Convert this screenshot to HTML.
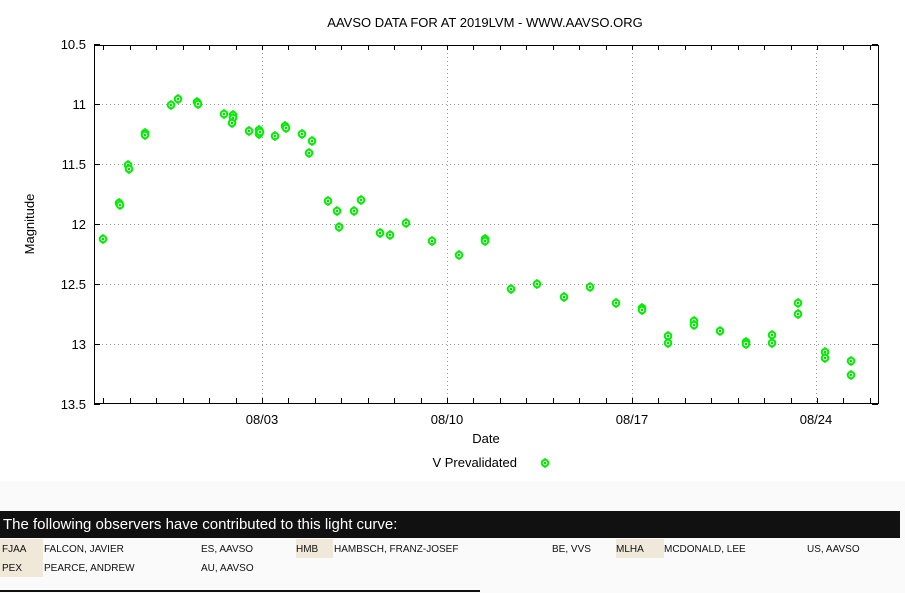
<!DOCTYPE html>
<html><head><style>
body{margin:0;width:905px;height:593px;background:#fafafa;font-family:"Liberation Sans",sans-serif;position:relative;overflow:hidden}
.bar{position:absolute;left:0;top:511px;width:900px;height:27px;background:#111;color:#fff;font-size:15px;line-height:27px;padding-left:3px;box-sizing:border-box}
.t{position:absolute;font-size:10px;color:#111}
.h{position:absolute;background:#f0e8d8}
</style></head><body>
<svg width="905" height="481" style="position:absolute;left:0;top:0;background:#fff">
<g font-family="Liberation Sans" font-size="13" fill="#000">
<text x="485" y="27" text-anchor="middle">AAVSO DATA FOR AT 2019LVM - WWW.AAVSO.ORG</text>
<text x="86" y="49" text-anchor="end">10.5</text>
<text x="86" y="109" text-anchor="end">11</text>
<text x="86" y="169" text-anchor="end">11.5</text>
<text x="86" y="229" text-anchor="end">12</text>
<text x="86" y="289" text-anchor="end">12.5</text>
<text x="86" y="349" text-anchor="end">13</text>
<text x="86" y="409" text-anchor="end">13.5</text>
<text x="262" y="424" text-anchor="middle">08/03</text>
<text x="447" y="424" text-anchor="middle">08/10</text>
<text x="632" y="424" text-anchor="middle">08/17</text>
<text x="816" y="424" text-anchor="middle">08/24</text>
<text x="486" y="443" text-anchor="middle">Date</text>
<text x="34" y="224" text-anchor="middle" transform="rotate(-90 34 224)">Magnitude</text>
<text x="517" y="467" text-anchor="end">V Prevalidated</text>
</g>
<g stroke="#999" stroke-dasharray="1,3" stroke-width="1">
<line x1="94" x2="878" y1="104.5" y2="104.5"/><line x1="94" x2="878" y1="164.5" y2="164.5"/>
<line x1="94" x2="878" y1="224.5" y2="224.5"/><line x1="94" x2="878" y1="284.5" y2="284.5"/>
<line x1="94" x2="878" y1="344.5" y2="344.5"/>
<line x1="262.5" x2="262.5" y1="45" y2="403"/><line x1="447.5" x2="447.5" y1="45" y2="403"/>
<line x1="632.5" x2="632.5" y1="45" y2="403"/><line x1="816.5" x2="816.5" y1="45" y2="403"/>
</g>
<rect x="94.5" y="45.5" width="784" height="358" fill="none" stroke="#000"/>
<g stroke="#000" id="tk"></g>
<g id="pts"></g>
</svg>
<div class="bar">The following observers have contributed to this light curve:</div>
<div class="h" style="left:0;top:539px;width:43px;height:38px"></div>
<div class="h" style="left:296px;top:539px;width:37px;height:19px"></div>
<div class="h" style="left:616px;top:539px;width:48px;height:19px"></div>
<div class="t" style="left:2px;top:544px">FJAA</div>
<div class="t" style="left:44px;top:544px">FALCON, JAVIER</div>
<div class="t" style="left:201px;top:544px">ES, AAVSO</div>
<div class="t" style="left:296px;top:544px">HMB</div>
<div class="t" style="left:334px;top:544px">HAMBSCH, FRANZ-JOSEF</div>
<div class="t" style="left:552px;top:544px">BE, VVS</div>
<div class="t" style="left:616px;top:544px">MLHA</div>
<div class="t" style="left:664px;top:544px">MCDONALD, LEE</div>
<div class="t" style="left:807px;top:544px">US, AAVSO</div>
<div class="t" style="left:2px;top:563px">PEX</div>
<div class="t" style="left:44px;top:563px">PEARCE, ANDREW</div>
<div class="t" style="left:201px;top:563px">AU, AAVSO</div>
<div style="position:absolute;left:0;top:590px;width:480px;height:2px;background:#111"></div>
<script>
var ns="http://www.w3.org/2000/svg";
var tk=document.getElementById("tk");
function ln(a,b,c,d){var l=document.createElementNS(ns,"line");l.setAttribute("x1",a);l.setAttribute("y1",b);l.setAttribute("x2",c);l.setAttribute("y2",d);tk.appendChild(l);}
for(var i=0;i<7;i++){var y=44.5+i*60;ln(94,y,100,y);ln(872,y,878,y);}
for(var d=-6;d<24;d++){var x=Math.round(262+d*26.43)+0.5;if(x>94&&x<878){ln(x,403,x,398);ln(x,45,x,50);}}
var P=[[103,239],[119,203],[120,205],[128,165],[129,169],[145,133],[145,135],[171,105],[178,99],[197,102],[198,104],[224,114],[233,115],[233,118],[232,123],[249,131],[259,130],[259,134],[260,132],[275,136],[285,126],[286,128],[302,134],[309,153],[312,141],[328,201],[337,211],[339,227],[354,211],[361,200],[380,233],[390,235],[406,223],[432,241],[459,255],[485,239],[485,241],[511,289],[537,284],[564,297],[590,287],[616,303],[642,308],[642,310],[668,336],[668,343],[694,321],[694,325],[720,331],[746,342],[746,344],[772,335],[772,343],[798,303],[798,314],[825,352],[825,358],[851,361],[851,375],[545,463]];
var g=document.getElementById("pts");
P.forEach(function(p){
var e=document.createElementNS(ns,"line");e.setAttribute("x1",p[0]);e.setAttribute("x2",p[0]);e.setAttribute("y1",p[1]-5);e.setAttribute("y2",p[1]+5);e.setAttribute("stroke","#22dd22");e.setAttribute("stroke-width","1.5");g.appendChild(e);
var c=document.createElementNS(ns,"circle");c.setAttribute("cx",p[0]);c.setAttribute("cy",p[1]);c.setAttribute("r",3.3);c.setAttribute("fill","#ccffcc");c.setAttribute("stroke","#00ee00");c.setAttribute("stroke-width","2");g.appendChild(c);
var c2=document.createElementNS(ns,"circle");c2.setAttribute("cx",p[0]);c2.setAttribute("cy",p[1]);c2.setAttribute("r",1);c2.setAttribute("fill","#00aa00");g.appendChild(c2);});
</script>
</body></html>
